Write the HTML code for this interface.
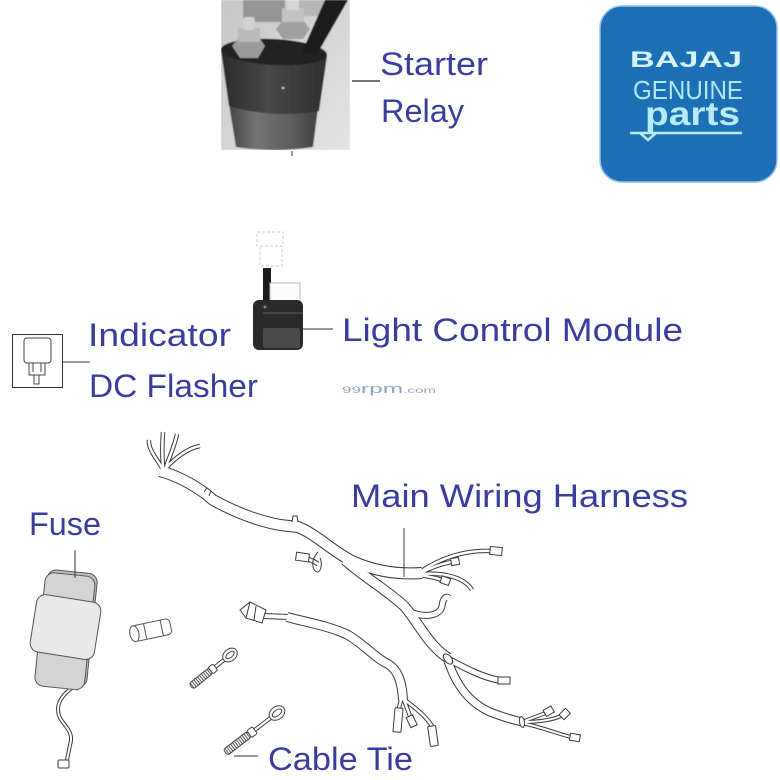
<!DOCTYPE html>
<html><head><meta charset="utf-8"><style>
html,body{margin:0;padding:0;background:#fff;}
svg{display:block;}
.t{font-family:"Liberation Sans",Arial,sans-serif;fill:#3a3d9e;font-size:32px;}
</style></head><body>
<svg width="780" height="780" viewBox="0 0 780 780" xmlns="http://www.w3.org/2000/svg">
<defs>
<linearGradient id="relbg" x1="0" y1="0" x2="1" y2="1"><stop offset="0" stop-color="#c6c6c6"/><stop offset="1" stop-color="#e4e4e4"/></linearGradient>
<linearGradient id="lowb" x1="0" y1="0" x2="1" y2="0"><stop offset="0" stop-color="#444"/><stop offset="0.3" stop-color="#747474"/><stop offset="0.7" stop-color="#5e5e5e"/><stop offset="1" stop-color="#404040"/></linearGradient>
<linearGradient id="upb" x1="0" y1="0" x2="1" y2="0"><stop offset="0" stop-color="#2a2a2a"/><stop offset="0.45" stop-color="#484848"/><stop offset="1" stop-color="#2e2e2e"/></linearGradient>
<clipPath id="rclip"><rect x="221" y="0" width="129" height="150"/></clipPath>
<pattern id="thr" width="2.4" height="10" patternUnits="userSpaceOnUse"><rect width="2.4" height="10" fill="#fff"/><line x1="0.6" y1="0" x2="0.6" y2="10" stroke="#444" stroke-width="0.9"/></pattern>
<filter id="soft"><feGaussianBlur stdDeviation="0.6"/></filter>
</defs>

<!-- Starter relay photo -->
<g clip-path="url(#rclip)" filter="url(#soft)">
<rect x="221" y="0" width="129" height="150" fill="url(#relbg)"/>
<rect x="243" y="0" width="42" height="22" fill="#959595"/>
<rect x="290" y="0" width="40" height="16" fill="#b6b6b6"/>
<path d="M229,104 L318,108 L313,147 Q273,153 236,147 Z" fill="url(#lowb)"/>
<path d="M221,50 L327,56 L319,111 Q274,119 229,106 Z" fill="url(#upb)"/>
<ellipse cx="274" cy="52" rx="53" ry="13" fill="#232323" transform="rotate(3 274 52)"/>
<polygon points="232,46 240,36 258,36 265,46 258,58 240,58" fill="#9a9a9a"/>
<rect x="238" y="28" width="22" height="14" fill="#bababa"/>
<rect x="243" y="17" width="12" height="13" rx="3" fill="#d2d2d2"/>
<polygon points="276,29 283,20 303,20 310,29 303,39 283,39" fill="#a0a0a0"/>
<rect x="282" y="8" width="22" height="14" fill="#c2c2c2"/>
<rect x="287" y="0" width="12" height="10" fill="#d6d6d6"/>
<polygon points="325,0 348,0 316,56 302,52" fill="#1b1b1b"/>
<circle cx="283" cy="88" r="1.2" fill="#ddd"/>
</g>
<line x1="292" y1="151" x2="292" y2="156" stroke="#333" stroke-width="1"/>
<line x1="352" y1="81" x2="380" y2="81" stroke="#222" stroke-width="1.2"/>
<text class="t" x="380" y="75" textLength="108" lengthAdjust="spacingAndGlyphs">Starter</text>
<text class="t" x="381" y="122" textLength="83" lengthAdjust="spacingAndGlyphs">Relay</text>

<!-- Bajaj logo -->
<rect x="600" y="6" width="177" height="176" rx="22" fill="#1d70b6" stroke="#8fc3e8" stroke-width="1.5"/>
<text x="630" y="67" font-family="Liberation Sans,Arial,sans-serif" font-weight="bold" font-size="22" fill="#d6f3fa" textLength="112" lengthAdjust="spacingAndGlyphs">BAJAJ</text>
<text x="633" y="99" font-family="Liberation Sans,Arial,sans-serif" font-size="26" fill="#b0e7f5" textLength="110" lengthAdjust="spacingAndGlyphs">GENUINE</text>
<text x="645" y="125" font-family="Liberation Sans,Arial,sans-serif" font-weight="bold" font-size="33" fill="#b8ebf7" textLength="95" lengthAdjust="spacingAndGlyphs">parts</text>
<line x1="630" y1="133" x2="742" y2="133" stroke="#b8ebf7" stroke-width="2.5"/>
<polyline points="640,133 648,140 656,133" fill="none" stroke="#b8ebf7" stroke-width="2.5"/>

<!-- Indicator DC Flasher -->
<rect x="12.5" y="334.5" width="50" height="53" fill="#fff" stroke="#333" stroke-width="1"/>
<rect x="24" y="338" width="27" height="25" rx="3" fill="#fff" stroke="#444" stroke-width="1"/>
<path d="M29,363 L29,375 L45,375 L45,363" fill="none" stroke="#444" stroke-width="1"/>
<path d="M33,363 L33,372 M41,363 L41,372" stroke="#444" stroke-width="1"/>
<rect x="34" y="375" width="5" height="9" fill="#fff" stroke="#444" stroke-width="1"/>
<line x1="62" y1="362" x2="90" y2="362" stroke="#333" stroke-width="1"/>
<text class="t" x="88" y="346" textLength="143" lengthAdjust="spacingAndGlyphs">Indicator</text>
<text class="t" x="89" y="397" textLength="169" lengthAdjust="spacingAndGlyphs">DC Flasher</text>

<!-- Light Control Module -->
<g stroke="#ccc" stroke-width="1" fill="none" stroke-dasharray="3,2">
<rect x="257" y="232" width="26" height="14"/>
<rect x="260" y="246" width="22" height="20"/>
</g>
<rect x="263" y="268" width="8" height="34" fill="#1c1c1c"/>
<rect x="270" y="283" width="30" height="30" fill="#fbfbfb" stroke="#bbb" stroke-width="1"/>
<rect x="253" y="300" width="50" height="50" rx="6" fill="#2a2a2a"/>
<rect x="263" y="312" width="40" height="2" fill="#444"/>
<rect x="263" y="328" width="37" height="20" rx="2" fill="#4a4a4a"/>
<circle cx="265" cy="307" r="1.5" fill="#888"/>
<line x1="303" y1="329" x2="333" y2="329" stroke="#333" stroke-width="1"/>
<text class="t" x="342" y="341" textLength="341" lengthAdjust="spacingAndGlyphs">Light Control Module</text>
<text x="342" y="393" font-family="Liberation Sans,Arial,sans-serif" font-size="13" fill="#90a6bd" textLength="94" lengthAdjust="spacingAndGlyphs"><tspan font-size="9">99</tspan>rpm<tspan font-size="8">.com</tspan></text>

<!-- Harness outlines: dark wide stroke, then white inner -->
<g fill="none" stroke="#3a3a3a" stroke-linejoin="round">
 <path d="M160,471 C178,476 195,486 206,494 L213,500 C235,512 258,521 280,525 L298,527 C316,534 332,551 352,561 C372,570 395,575 422,573" stroke-width="12"/>
 <path d="M345,560 C365,578 390,592 405,607 C418,622 428,645 448,658" stroke-width="11"/>
 <path d="M410,612 C425,618 440,616 442,606 C443,598 446,596 449,598" stroke-width="7"/>
 <path d="M448,659 C465,668 482,677 498,680" stroke-width="7"/>
 <path d="M448,661 C456,684 468,702 490,712 C503,717 513,720 522,722" stroke-width="9"/>
 <path d="M522,722 C532,718 540,715 546,713" stroke-width="4"/>
 <path d="M522,722 C540,722 552,720 561,716" stroke-width="4"/>
 <path d="M522,723 C545,728 558,734 571,737" stroke-width="4"/>
 <path d="M420,572 C440,558 465,550 490,551" stroke-width="4.5"/>
 <path d="M420,573 C435,566 445,563 452,562" stroke-width="4.5"/>
 <path d="M420,575 C430,577 437,578 442,580" stroke-width="4.5"/>
 <path d="M420,574 C445,572 465,578 472,590" stroke-width="4.5"/>
 <path d="M162,468 C158,460 148,450 149,440" stroke-width="4.5"/>
 <path d="M163,467 C162,455 162,445 163,432" stroke-width="4.5"/>
 <path d="M166,467 C170,455 175,445 177,434" stroke-width="4.5"/>
 <path d="M166,468 C175,458 188,448 200,446" stroke-width="4.5"/>
 <path d="M318,564 C312,560 306,558 300,557" stroke-width="5"/>
 <path d="M264,616 L289,617" stroke-width="6"/>
 <path d="M287,617 C305,622 330,626 348,635 C365,645 375,658 388,664 C398,670 402,682 403,700" stroke-width="10"/>
 <path d="M401,700 L398,712" stroke-width="4.5"/>
 <path d="M404,700 L410,716" stroke-width="4.5"/>
 <path d="M405,700 C415,708 425,715 432,726" stroke-width="4.5"/>
 <path d="M73,687 C62,695 54,705 60,718 C66,728 74,732 70,745 L67,760" stroke-width="4"/>
</g>
<g fill="none" stroke="#fff" stroke-linejoin="round">
 <path d="M160,471 C178,476 195,486 206,494 L213,500 C235,512 258,521 280,525 L298,527 C316,534 332,551 352,561 C372,570 395,575 422,573" stroke-width="10"/>
 <path d="M345,560 C365,578 390,592 405,607 C418,622 428,645 448,658" stroke-width="9"/>
 <path d="M410,612 C425,618 440,616 442,606 C443,598 446,596 449,598" stroke-width="5"/>
 <path d="M448,659 C465,668 482,677 498,680" stroke-width="5"/>
 <path d="M448,661 C456,684 468,702 490,712 C503,717 513,720 522,722" stroke-width="7"/>
 <path d="M522,722 C532,718 540,715 546,713" stroke-width="2"/>
 <path d="M522,722 C540,722 552,720 561,716" stroke-width="2"/>
 <path d="M522,723 C545,728 558,734 571,737" stroke-width="2"/>
 <path d="M420,572 C440,558 465,550 490,551" stroke-width="2.5"/>
 <path d="M420,573 C435,566 445,563 452,562" stroke-width="2.5"/>
 <path d="M420,575 C430,577 437,578 442,580" stroke-width="2.5"/>
 <path d="M420,574 C445,572 465,578 472,590" stroke-width="2.5"/>
 <path d="M162,468 C158,460 148,450 149,440" stroke-width="2.5"/>
 <path d="M163,467 C162,455 162,445 163,432" stroke-width="2.5"/>
 <path d="M166,467 C170,455 175,445 177,434" stroke-width="2.5"/>
 <path d="M166,468 C175,458 188,448 200,446" stroke-width="2.5"/>
 <path d="M318,564 C312,560 306,558 300,557" stroke-width="3"/>
 <path d="M264,616 L289,617" stroke-width="4"/>
 <path d="M287,617 C305,622 330,626 348,635 C365,645 375,658 388,664 C398,670 402,682 403,700" stroke-width="8"/>
 <path d="M401,700 L398,712" stroke-width="2.5"/>
 <path d="M404,700 L410,716" stroke-width="2.5"/>
 <path d="M405,700 C415,708 425,715 432,726" stroke-width="2.5"/>
 <path d="M73,687 C62,695 54,705 60,718 C66,728 74,732 70,745 L67,760" stroke-width="2"/>
</g>
<g fill="#fff" stroke="#3a3a3a" stroke-width="1">
 <path d="M292,522 L293,516 L297,516 L298,522" />
 <path d="M204,492 L207,488 L211,491 L209,496" />
 <rect x="490" y="547" width="12" height="8" transform="rotate(5 496 551)"/>
 <rect x="451" y="558" width="8" height="7" transform="rotate(-10 455 561)"/>
 <rect x="441" y="577" width="9" height="7" transform="rotate(20 445 580)"/>
 <rect x="498" y="677" width="12" height="7"/>
 <rect x="544" y="708" width="9" height="7" transform="rotate(-30 548 711)"/>
 <rect x="560" y="711" width="9" height="7" transform="rotate(-45 564 714)"/>
 <rect x="570" y="734" width="10" height="7" transform="rotate(10 575 737)"/>
 <ellipse cx="448" cy="659" rx="3.5" ry="6" transform="rotate(-40 448 659)"/>
 <ellipse cx="522" cy="722" rx="2.5" ry="5.5" transform="rotate(-10 522 722)"/>
 <rect x="296" y="553" width="13" height="8" transform="rotate(8 302 557)"/>
 <path d="M318,552 C310,560 312,572 318,572 C322,570 322,562 320,558" fill="none"/>
 <polygon points="240,610 250,602 266,610 262,623 246,618"/>
 <line x1="250" y1="602" x2="246" y2="618"/>
 <line x1="256" y1="606" x2="254" y2="620"/>
 <rect x="394" y="708" width="8" height="24" rx="1" transform="rotate(5 398 720)"/>
 <rect x="408" y="716" width="7" height="11" transform="rotate(-25 411 721)"/>
 <rect x="429" y="726" width="8" height="20" rx="1" transform="rotate(-8 433 736)"/>
 <rect x="58" y="760" width="11" height="8" rx="1"/>
</g>
<line x1="404" y1="528" x2="404" y2="577" stroke="#3a3a55" stroke-width="1"/>
<text class="t" x="351" y="507" textLength="337" lengthAdjust="spacingAndGlyphs">Main Wiring Harness</text>

<!-- Fuse box -->
<g transform="rotate(6 63 630)" stroke="#555" stroke-width="1">
 <rect x="42" y="571" width="50" height="114" rx="9" fill="#bdbdbd"/>
 <rect x="40" y="574" width="50" height="114" rx="9" fill="#d4d4d4"/>
</g>
<g transform="rotate(9 65 627)" stroke="#555" stroke-width="1">
 <rect x="33" y="598" width="65" height="58" rx="9" fill="#e9e9e9"/>
</g>
<line x1="75" y1="550" x2="75" y2="578" stroke="#333" stroke-width="1"/>
<text class="t" x="29" y="535" textLength="72" lengthAdjust="spacingAndGlyphs">Fuse</text>

<!-- Glass fuse -->
<g transform="rotate(-12 152 630)" stroke="#555" stroke-width="1" fill="#fff">
 <rect x="133" y="622" width="38" height="16" rx="4"/>
 <ellipse cx="134" cy="630" rx="4.5" ry="8"/>
 <line x1="145" y1="622" x2="145" y2="638"/>
 <line x1="162" y1="622" x2="162" y2="638"/>
</g>

<!-- Cable ties -->
<g transform="translate(230 655) rotate(141)" stroke="#444" stroke-width="1" fill="#fff">
 <ellipse cx="0" cy="0" rx="8" ry="6"/>
 <ellipse cx="0" cy="0" rx="5" ry="2.6"/>
 <line x1="8" y1="-1.6" x2="19" y2="-1.6"/>
 <line x1="8" y1="1.6" x2="19" y2="1.6"/>
 <rect x="19" y="-4" width="6" height="8" rx="1.5"/>
 <rect x="25" y="-3.5" width="25" height="7" rx="2.5" fill="url(#thr)"/>
</g>
<g transform="translate(277 713) rotate(142.6)" stroke="#444" stroke-width="1" fill="#fff">
 <ellipse cx="0" cy="0" rx="8.5" ry="6.5"/>
 <ellipse cx="0" cy="0" rx="5.5" ry="2.8"/>
 <line x1="8.5" y1="-1.6" x2="28" y2="-1.6"/>
 <line x1="8.5" y1="1.6" x2="28" y2="1.6"/>
 <rect x="28" y="-4.2" width="7" height="8.4" rx="1.5"/>
 <rect x="35" y="-3.6" width="30" height="7.2" rx="2.5" fill="url(#thr)"/>
</g>
<line x1="234" y1="756" x2="258" y2="756" stroke="#333" stroke-width="1"/>
<text class="t" x="268" y="770" textLength="145" lengthAdjust="spacingAndGlyphs">Cable Tie</text>
</svg>
</body></html>
